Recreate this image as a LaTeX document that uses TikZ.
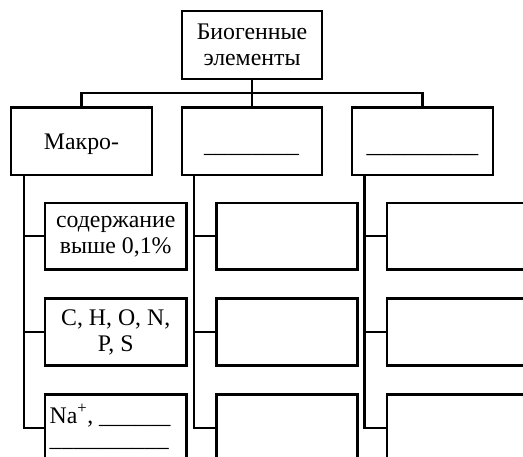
\documentclass[tikz,border=0pt]{standalone}
\usepackage{fontspec}
\setmainfont{Liberation Serif}
\begin{document}
\begin{tikzpicture}[x=1pt,y=-1pt,line width=2.4pt,
  box/.style={draw,rectangle,inner sep=0pt,line join=miter,
    font=\fontsize{23.8}{26}\selectfont,align=center},
  lbl/.style={inner sep=0pt,font=\fontsize{23.8}{23.5}\selectfont},
  conn/.style={draw,line join=miter}]
\useasboundingbox (0,0) rectangle (523,457);
% top
\node[box,minimum width=140pt,minimum height=68pt] (top) at (252,45) {Биогенные\\элементы};
% second row
\node[box,minimum width=141pt,minimum height=67.5pt] (m1) at (81.5,141.25) {};
\node[box,minimum width=140pt,minimum height=67.5pt] (m2) at (252,141.25) {};
\node[box,minimum width=141pt,minimum height=67.5pt] (m3) at (422.5,141.25) {};
\node[lbl,anchor=base] (t1) at (81.5,150) {Макро-};
\node[lbl,anchor=base,font=\fontsize{23.75}{24}\selectfont] (t2) at (251.5,153) {\_\_\_\_\_\_\_\_};
\node[lbl,anchor=base,font=\fontsize{24.8}{24}\selectfont] (t3) at (422.5,153) {\_\_\_\_\_\_\_\_\_};
% children column 1
\node[box,minimum width=141.5pt,minimum height=66.5pt] (c11) at (115.75,236.25) {содержание\\выше 0,1\%};
\node[box,minimum width=141.5pt,minimum height=67pt] (c12) at (115.75,332) {C, H, O, N,\\P, S};
\node[box,minimum width=141.5pt,minimum height=67pt] (c13) at (115.75,428) {};
\node[lbl,anchor=base west,align=left] (t13) at (48.5,446.5) {Na\textsuperscript{+}, \_\_\_\_\_\_\\\_\_\_\_\_\_\_\_\_\_};
% children column 2
\node[box,minimum width=141pt,minimum height=66.5pt] (c21) at (287,236.25) {};
\node[box,minimum width=141pt,minimum height=67pt] (c22) at (287,332) {};
\node[box,minimum width=141pt,minimum height=67pt] (c23) at (287,428) {};
% children column 3
\node[box,minimum width=141pt,minimum height=66.5pt] (c31) at (457.5,236.25) {};
\node[box,minimum width=141pt,minimum height=67pt] (c32) at (457.5,332) {};
\node[box,minimum width=141pt,minimum height=67pt] (c33) at (457.5,428) {};
% bus
\coordinate (bus) at (252,93);
\draw[conn] (top.south) -- (m2.north);
\draw[conn] (m1.north) -- (m1.north |- bus) -- (m3.north |- bus) -- (m3.north);
% column spines
\coordinate (s1) at ([xshift=14pt]m1.south west);
\coordinate (s2) at ([xshift=13pt]m2.south west);
\coordinate (s3) at ([xshift=13.5pt]m3.south west);
\foreach \c in {1,2,3}{
  \draw[conn] (s\c) |- (c\c3.west);
  \draw[conn] (s\c |- c\c1.west) -- (c\c1.west);
  \draw[conn] (s\c |- c\c2.west) -- (c\c2.west);
}
\end{tikzpicture}
\end{document}
